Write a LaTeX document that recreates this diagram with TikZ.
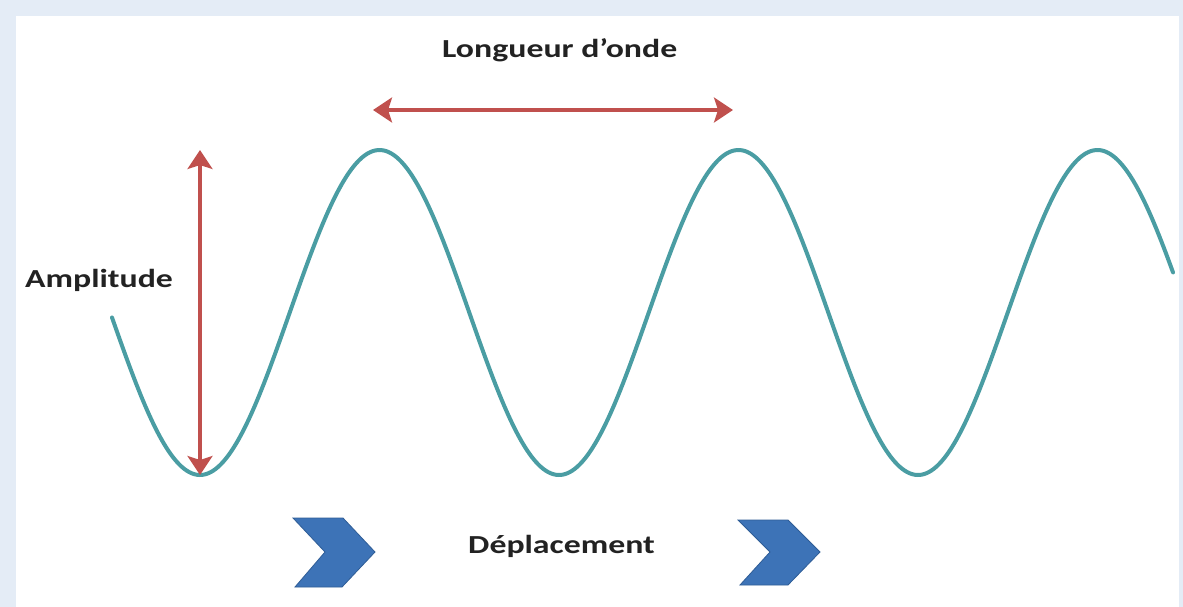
\documentclass[tikz,border=0pt]{standalone}
\usepackage{fontspec}
\setmainfont{Carlito}
\usetikzlibrary{arrows.meta}
\definecolor{framebg}{HTML}{E4ECF6}
\definecolor{wavecol}{HTML}{4A9DA3}
\definecolor{arrowred}{HTML}{C0504D}
\definecolor{chevfill}{HTML}{3D73B7}
\definecolor{chevedge}{HTML}{2F5D96}
\definecolor{txtcol}{HTML}{222222}
\tikzset{
  lbl/.style={inner sep=0pt, anchor=base west, text=txtcol, font=\fontsize{26}{30}\selectfont\bfseries},
  wave/.style={wavecol, line width=4pt, line cap=round},
  redarrow/.style={arrowred, line width=3.5pt, {Stealth[length=19pt,width=25pt,inset=4pt]}-{Stealth[length=19pt,width=25pt,inset=4pt]}},
  chev/.style={fill=chevfill, draw=chevedge, line width=0.8pt, line join=miter}
}
\begin{document}
\begin{tikzpicture}[x=1pt,y=-1pt]
\useasboundingbox (0,0) rectangle (1183,607);
\fill[framebg] (0,0) rectangle (1183,607);
\fill[white] (16,16) rectangle (1179,607);
% wave
\draw[wave] plot[domain=112:1173, samples=400, smooth] (\x, {312.5+162.5*cos((\x-200)*1.002786)});
% labels
\node[lbl] (lo) at (442,58) {\scalebox{1.3}[1]{Longueur d'onde}};
\node[lbl] (amp) at (25,287) {\scalebox{1.3}[1]{Amplitude}};
\node[lbl] (dep) at (468,553) {\scalebox{1.3}[1]{Déplacement}};
% arrows
\coordinate (ampTop) at (200,150);
\coordinate (ampBot) at (200,475);
\draw[redarrow] (ampTop) -- (ampBot);
\coordinate (loL) at (373,110);
\coordinate (loR) at (733,110);
\draw[redarrow] (loL) -- (loR);
% chevrons
\filldraw[chev] (293,518) -- (343,518) -- (375,552) -- (342,587) -- (295,587) -- (325,552) -- cycle;
\filldraw[chev] (738,520) -- (788,520) -- (820,552) -- (788,585) -- (740,585) -- (770,552) -- cycle;
\end{tikzpicture}
\end{document}
